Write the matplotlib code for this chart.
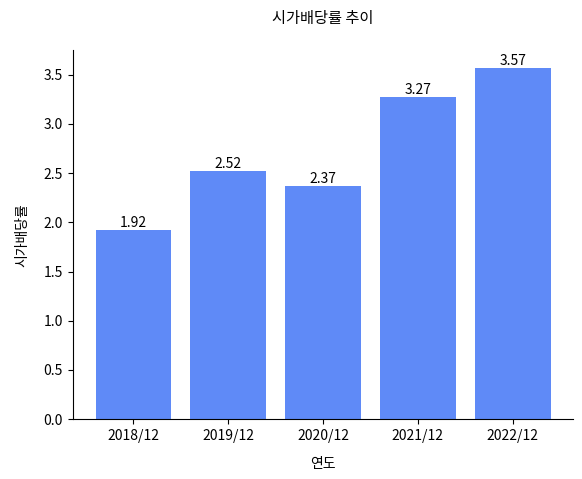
import matplotlib
matplotlib.use("Agg")
import matplotlib.pyplot as plt

plt.rcParams['font.family'] = ['Noto Sans CJK KR', 'DejaVu Sans']

years = ["2018/12", "2019/12", "2020/12", "2021/12", "2022/12"]
values = [1.92, 2.52, 2.37, 3.27, 3.57]

fig, ax = plt.subplots(figsize=(5.82, 4.79), dpi=100)
bars = ax.bar(years, values, color="#5f8af7")
for b, v in zip(bars, values):
    ax.text(b.get_x() + b.get_width()/2, v, f"{v:.2f}", ha="center", va="bottom", fontsize=10)
ax.set_title("시가배당률 추이", pad=20, fontsize=11)
ax.set_xlabel("연도", labelpad=10)
ax.set_ylabel("시가배당률", labelpad=10)
ax.spines['top'].set_visible(False)
ax.spines['right'].set_visible(False)
fig.subplots_adjust(left=0.125, right=0.985, top=0.895, bottom=0.125)
fig.savefig("out.png")
